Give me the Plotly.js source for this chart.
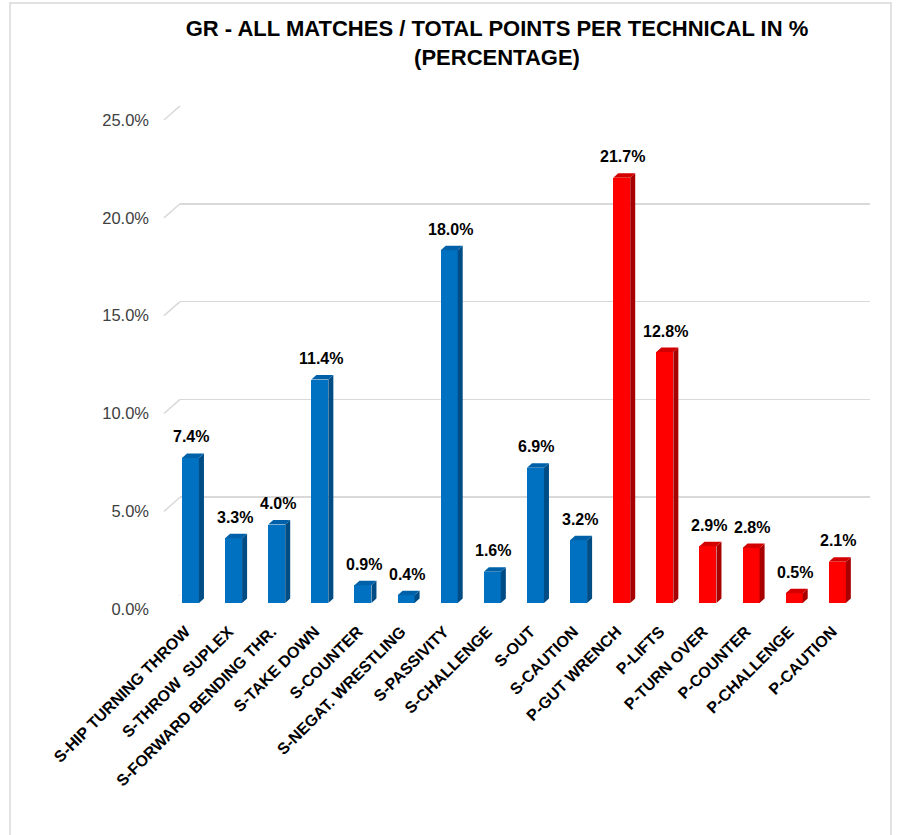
<!DOCTYPE html>
<html><head><meta charset="utf-8">
<script src="https://cdn.plot.ly/plotly-3.0.1.min.js"></script>
<style>html,body{margin:0;padding:0;background:#fff}</style>
</head><body><div id="chart" style="width:899px;height:835px"></div>
<script>
// ---- data ----
const categories = ["S-HIP TURNING THROW","S-THROW  SUPLEX","S-FORWARD BENDING THR.","S-TAKE DOWN","S-COUNTER","S-NEGAT. WRESTLING","S-PASSIVITY","S-CHALLENGE","S-OUT","S-CAUTION","P-GUT WRENCH","P-LIFTS","P-TURN OVER","P-COUNTER","P-CHALLENGE","P-CAUTION"];
const values = [7.4,3.3,4.0,11.4,0.9,0.4,18.0,1.6,6.9,3.2,21.7,12.8,2.9,2.8,0.5,2.1];
const groups = ["S","S","S","S","S","S","S","S","S","S","P","P","P","P","P","P"];
const yTickValues = [0,5,10,15,20,25];
const yTickLabels = ["0.0%","5.0%","10.0%","15.0%","20.0%","25.0%"];
const titleText = "GR - ALL MATCHES / TOTAL POINTS PER TECHNICAL IN %<br>(PERCENTAGE)";

// ---- style ----
const palette = {
  S: {front:"#0070C0", side:"#004C85", top:"#0061A8"},
  P: {front:"#FF0000", side:"#A80000", top:"#D40000"}
};
const FONT = "Liberation Sans, Arial, sans-serif";
const W = 899, H = 835;
const px = v => v / W, py = v => 1 - v / H;
const barWidth = 0.394;
const depthX = 0.116, depthY = 0.23;

const idx = categories.map((_, i) => i);
const traces = [];
["S","P"].forEach(g => {
  const xi = idx.filter(i => groups[i] === g);
  traces.push({
    type: "bar", x: xi, y: xi.map(i => values[i]), width: barWidth,
    xaxis: "x2", yaxis: "y2",
    marker: {color: palette[g].front, line: {width: 0}},
    hoverinfo: "skip"
  });
  const sx = [], sy = [], tx = [], ty = [];
  xi.forEach(i => {
    const v = values[i], xl = i - barWidth / 2, xr = i + barWidth / 2;
    sx.push(xr, xr + depthX, xr + depthX, xr, null);
    sy.push(0, depthY, v + depthY, v, null);
    tx.push(xl, xl + depthX, xr + depthX, xr, null);
    ty.push(v, v + depthY, v + depthY, v, null);
  });
  traces.push({type:"scatter", mode:"lines", x: sx, y: sy, fill:"toself", fillcolor: palette[g].side,
    line:{width:0, color: palette[g].side}, xaxis:"x2", yaxis:"y2", hoverinfo:"skip"});
  traces.push({type:"scatter", mode:"lines", x: tx, y: ty, fill:"toself", fillcolor: palette[g].top,
    line:{width:0, color: palette[g].top}, xaxis:"x2", yaxis:"y2", hoverinfo:"skip"});
});

const annotations = idx.map(i => ({
  xref:"x2", yref:"y2", x: i, y: values[i], text: values[i].toFixed(1) + "%",
  showarrow:false, yanchor:"middle", yshift: 21, xshift: 1,
  font:{family: FONT, size: 16, color:"#000", weight:"bold"}
}));

const shapes = [{
  type:"rect", xref:"paper", yref:"paper", x0: px(10), x1: px(891), y0: -0.1, y1: py(3),
  line:{color:"#d9d9d9", width:1.5}, fillcolor:"rgba(0,0,0,0)", layer:"below"
}];
yTickValues.forEach(v => {
  shapes.push({type:"line", xref:"paper", yref:"y", x0: px(164), x1: px(180), y0: v - 0.72, y1: v,
    line:{color:"#d9d9d9", width:1.5}});
});

const layout = {
  width: W, height: H, margin:{l:0, r:0, t:0, b:0},
  paper_bgcolor:"#fff", plot_bgcolor:"rgba(0,0,0,0)", showlegend:false,
  title:{text: titleText, x: 497 / W, xanchor:"center", xref:"paper", yref:"paper",
    y: py(36), yanchor:"middle",
    font:{family: FONT, size: 22, color:"#000", weight:"bold"}},
  xaxis:{domain:[px(180), px(870)], range:[0,1], visible:false, anchor:"y", fixedrange:true},
  yaxis:{domain:[py(595.5), py(105.5)], range:[-0.02,25.02], anchor:"x", tickvals: yTickValues, ticktext: yTickLabels,
    showgrid:true, gridcolor:"#d9d9d9", gridwidth:1.6, zeroline:false, showline:false, ticks:"",
    ticklabelstandoff: 30, ticklabelshift: 14,
    tickfont:{family: FONT, size: 16.5, color:"#404040"}, fixedrange:true},
  xaxis2:{domain:[px(168.9), px(858.9)], range:[-0.5, 15.5], anchor:"y2", tickvals: idx, ticktext: categories,
    tickangle:-45, tickfont:{family: FONT, size: 16, color:"#000", weight:"bold"},
    ticklabelshift: -5,
    showgrid:false, zeroline:false, showline:false, ticks:"outside", ticklen: 12, tickcolor:"rgba(0,0,0,0)", fixedrange:true},
  yaxis2:{domain:[py(603), py(113)], range:[0,25], anchor:"x2", visible:false, fixedrange:true},
  annotations: annotations, shapes: shapes, bargap: 0
};

Plotly.newPlot("chart", traces, layout, {displayModeBar:false, staticPlot:true});
</script></body></html>
